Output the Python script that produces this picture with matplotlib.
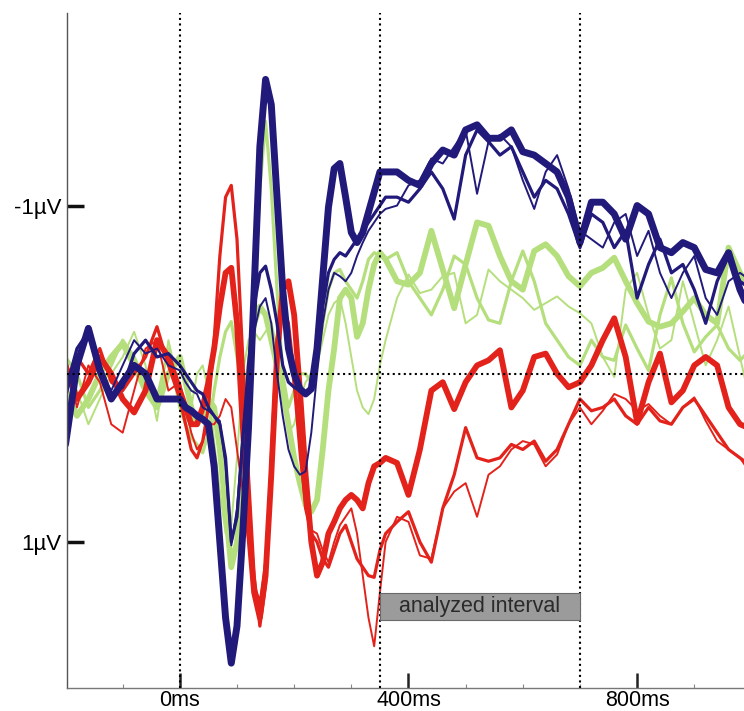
# -*- coding: utf-8 -*-
# Potenciales evocados (ERP): tres condiciones (rojo, verde, azul),
# cada una con tres trazos de distinto grosor.

import matplotlib.pyplot as plt
from matplotlib.patches import Rectangle

plt.rcParams['font.family'] = ['Liberation Sans', 'DejaVu Sans']

# Eje temporal (ms): 20 ms en línea de base y al final, 10 ms entre 0 y 360
ms = list(range(-200, 0, 20)) + list(range(0, 370, 10)) + list(range(380, 1001, 20))

# Amplitudes en µV (negativo hacia arriba)
azul_grueso = ([0.42, -0.05, -0.27, -0.02, 0.15, 0.05, -0.05, 0.0, 0.15, 0.15]
               + [0.15, 0.2, 0.22, 0.25, 0.27, 0.3, 0.55, 1.0, 1.45, 1.72,
                  1.5, 0.95, 0.33, -0.5, -1.35, -1.75, -1.6, -1.05, -0.5, -0.15,
                  0.0, 0.09, 0.12, 0.09, -0.15, -0.57, -0.99, -1.22, -1.25, -1.05,
                  -0.84, -0.78, -0.84, -0.96, -1.08, -1.2, -1.2]
               + [-1.2, -1.15, -1.12, -1.25, -1.33, -1.3, -1.45, -1.48, -1.4, -1.4,
                  -1.45, -1.32, -1.3, -1.25, -1.2, -1.05, -0.78, -1.02, -1.02, -0.95,
                  -0.8, -1.0, -0.95, -0.75, -0.72, -0.78, -0.75, -0.62, -0.6, -0.72,
                  -0.5, -0.35])
azul_medio = ([0.1, -0.15, -0.25, -0.05, 0.12, 0.08, -0.12, -0.2, -0.1, -0.12]
              + [-0.05, 0.0, 0.05, 0.1, 0.12, 0.2, 0.25, 0.3, 0.5, 1.0,
                 0.85, 0.4, -0.05, -0.4, -0.6, -0.64, -0.5, -0.3, -0.05, 0.05,
                 0.08, 0.1, 0.12, 0.1, -0.1, -0.4, -0.6, -0.68, -0.72, -0.7,
                 -0.75, -0.8, -0.85, -0.9, -0.95, -1.0, -1.05]
              + [-1.05, -1.02, -1.1, -1.2, -1.1, -0.92, -1.3, -1.45, -1.38, -1.3,
                 -1.35, -1.2, -1.05, -1.15, -1.1, -0.95, -0.75, -0.95, -0.9, -0.75,
                 -0.85, -0.45, -0.65, -0.8, -0.6, -0.65, -0.5, -0.3, -0.55, -0.7,
                 -0.55, -0.5])
azul_fino = ([0.15, -0.1, -0.22, 0.0, 0.1, -0.05, -0.2, -0.12, -0.15, -0.05]
             + [-0.02, 0.05, 0.1, 0.12, 0.2, 0.22, 0.25, 0.28, 0.55, 1.02,
                0.8, 0.35, 0.0, -0.25, -0.4, -0.45, -0.3, 0.0, 0.25, 0.45,
                0.55, 0.6, 0.58, 0.35, 0.0, -0.3, -0.5, -0.6, -0.58, -0.55,
                -0.6, -0.7, -0.78, -0.85, -0.9, -0.95, -0.98]
             + [-1.0, -1.12, -1.15, -1.28, -1.25, -1.35, -1.45, -1.07, -1.38, -1.42,
                -1.35, -1.15, -0.98, -1.2, -1.3, -1.1, -0.85, -0.8, -0.75, -0.9,
                -0.95, -0.7, -0.85, -0.6, -0.45, -0.6, -0.7, -0.45, -0.35, -0.55,
                -0.6, -0.55])

verde_grueso = ([0.1, 0.25, 0.15, 0.0, -0.1, -0.18, -0.05, 0.1, 0.2, 0.0]
                + [-0.1, 0.05, 0.2, 0.3, 0.25, 0.15, 0.2, 0.45, 0.8, 1.15,
                   1.0, 0.5, 0.0, -0.3, -0.4, -0.35, -0.2, -0.05, 0.1, 0.3,
                   0.5, 0.65, 0.78, 0.82, 0.75, 0.45, 0.1, -0.15, -0.45, -0.5,
                   -0.45, -0.22, -0.3, -0.5, -0.65, -0.72, -0.68]
                + [-0.55, -0.53, -0.6, -0.85, -0.62, -0.39, -0.65, -0.9, -0.88, -0.7,
                   -0.55, -0.5, -0.73, -0.77, -0.7, -0.58, -0.52, -0.6, -0.63, -0.69,
                   -0.55, -0.42, -0.31, -0.28, -0.3, -0.37, -0.45, -0.35, -0.3, -0.75,
                   -0.6, -0.5])
verde_medio = ([-0.1, 0.0, 0.2, 0.1, -0.05, -0.2, -0.1, 0.05, 0.15, -0.15]
               + [0.2, 0.3, 0.38, 0.42, 0.47, 0.35, 0.1, -0.1, -0.25, -0.31,
                  -0.1, 0.1, 0.2, -0.4, -1.1, -1.5, -1.1, -0.5, 0.0, 0.2,
                  0.1, 0.0, 0.0, 0.05, -0.05, -0.3, -0.5, -0.6, -0.62, -0.55,
                  -0.5, -0.45, -0.55, -0.68, -0.72, -0.7, -0.68]
               + [-0.72, -0.55, -0.45, -0.35, -0.5, -0.7, -0.65, -0.45, -0.32, -0.3,
                  -0.55, -0.73, -0.55, -0.3, -0.2, -0.1, -0.05, -0.2, -0.1, -0.08,
                  -0.29, -0.15, -0.02, -0.35, -0.57, -0.3, -0.13, -0.22, -0.29, -0.15,
                  -0.08, -0.15])
verde_fino = ([-0.05, 0.1, 0.3, 0.15, 0.0, -0.1, -0.25, -0.05, 0.28, -0.2]
              + [0.1, 0.28, 0.2, 0.0, -0.05, 0.1, 0.4, 0.7, 0.95, 0.9,
                 0.5, 0.0, -0.2, -0.25, -0.2, -0.25, -0.31, -0.15, 0.1, 0.35,
                 0.3, 0.15, 0.05, 0.0, -0.05, -0.2, -0.35, -0.42, -0.45, -0.3,
                 -0.1, 0.1, 0.2, 0.24, 0.15, -0.05, -0.2]
              + [-0.45, -0.59, -0.48, -0.5, -0.58, -0.6, -0.3, -0.35, -0.62, -0.55,
                 -0.5, -0.45, -0.38, -0.42, -0.46, -0.4, -0.36, -0.3, -0.1, 0.02,
                 -0.5, -0.6, -0.35, -0.15, -0.2, -0.55, -0.3, -0.05, -0.2, -0.4,
                 -0.1, 0.2])

rojo_grueso = ([-0.05, 0.15, 0.05, -0.1, 0.0, 0.15, 0.23, 0.1, -0.2, -0.1]
               + [0.1, 0.2, 0.3, 0.3, 0.2, 0.05, -0.15, -0.4, -0.6, -0.63,
                  -0.3, 0.3, 0.9, 1.3, 1.45, 1.2, 0.6, -0.1, -0.5, -0.55,
                  -0.35, 0.1, 0.6, 1.0, 1.2, 1.12, 0.95, 0.88, 0.8, 0.75,
                  0.72, 0.75, 0.8, 0.65, 0.55, 0.53, 0.5]
               + [0.53, 0.72, 0.45, 0.1, 0.05, 0.21, 0.05, -0.05, -0.08, -0.14,
                  0.2, 0.1, -0.1, -0.12, 0.0, 0.08, 0.05, -0.05, -0.2, -0.33,
                  -0.1, 0.29, 0.05, -0.12, 0.17, 0.1, -0.05, -0.1, -0.05, 0.2,
                  0.3, 0.33])
rojo_medio = ([0.1, -0.1, 0.0, -0.15, 0.05, 0.1, 0.0, -0.1, -0.28, -0.05]
              + [0.15, 0.3, 0.45, 0.5, 0.4, 0.2, -0.2, -0.7, -1.05, -1.12,
                 -0.8, -0.1, 0.6, 1.2, 1.5, 1.25, 0.5, -0.2, -0.4, -0.3,
                 0.0, 0.4, 0.8, 0.95, 1.0, 1.1, 1.15, 1.05, 0.95, 0.9,
                 1.0, 1.1, 1.15, 1.2, 1.21, 1.05, 0.95]
              + [0.88, 0.82, 1.0, 1.12, 0.8, 0.6, 0.32, 0.5, 0.52, 0.5,
                 0.42, 0.45, 0.4, 0.52, 0.45, 0.3, 0.15, 0.22, 0.2, 0.15,
                 0.25, 0.3, 0.2, 0.28, 0.3, 0.2, 0.15, 0.25, 0.35, 0.45,
                 0.5, 0.55])
rojo_fino = ([-0.1, 0.2, -0.05, 0.05, 0.3, 0.35, 0.1, -0.15, -0.2, 0.1]
             + [0.05, 0.2, 0.35, 0.45, 0.4, 0.3, 0.3, 0.25, 0.15, 0.2,
                0.45, 0.7, 1.0, 1.25, 1.35, 1.1, 0.5, -0.25, -0.39, -0.2,
                0.1, 0.5, 0.8, 0.93, 0.95, 1.05, 1.12, 1.0, 0.9, 0.85,
                0.8, 0.95, 1.2, 1.45, 1.62, 1.3, 1.0]
             + [0.85, 0.88, 1.08, 1.1, 0.8, 0.7, 0.65, 0.85, 0.6, 0.55,
                0.45, 0.4, 0.42, 0.55, 0.48, 0.3, 0.2, 0.3, 0.22, 0.12,
                0.15, 0.22, 0.18, 0.25, 0.3, 0.2, 0.14, 0.28, 0.4, 0.45,
                0.5, 0.6])

rojo = '#e3231b'
verde = '#b5df7c'
azul = '#211a7a'

fig = plt.figure(figsize=(7.44, 7.11), dpi=100)
ax = fig.add_axes([0.0896, 0.0328, 0.9104, 0.9485])

# orden de dibujo: verde, rojo y azul encima
trazos = [(verde_fino, verde, 1.4), (verde_medio, verde, 2.3), (verde_grueso, verde, 4.2),
          (rojo_fino, rojo, 1.4), (rojo_medio, rojo, 2.3), (rojo_grueso, rojo, 4.2),
          (azul_fino, azul, 1.4), (azul_medio, azul, 2.3), (azul_grueso, azul, 5.0)]
for serie, color, grosor in trazos:
    ax.plot(ms, serie, color=color, lw=grosor, solid_joinstyle='round',
            solid_capstyle='round')

# líneas de referencia punteadas
for t in [0, 350, 700]:
    ax.axvline(t, color='black', ls=':', lw=1.5, zorder=5)
ax.axhline(0, color='black', ls=':', lw=1.5, zorder=5)

# intervalo analizado
ax.add_patch(Rectangle((350, 1.303), 350, 0.161, facecolor='#9b9b9b',
                       edgecolor='#6a6a6a', lw=0.8, zorder=6))
ax.text(525, 1.385, 'analyzed interval', ha='center', va='center',
        fontsize=15.5, color='#2a2a2a', zorder=7)

ax.set_xlim(-198, 987)
ax.set_ylim(1.866, -2.143)

ax.set_xticks([0, 400, 800])
ax.set_xticklabels(['0ms', '400ms', '800ms'])
ax.set_xticks([-100, 100, 200, 300, 500, 600, 700, 900], minor=True)
ax.set_yticks([-1, 1])
ax.set_yticklabels(['-1µV', '1µV'])

ax.tick_params(axis='x', which='major', direction='in', length=11, width=1.8,
               color='#222222', pad=2, labelsize=15.5)
ax.tick_params(axis='x', which='minor', direction='in', length=3, width=0.8,
               color='#888888')
ax.tick_params(axis='y', which='major', direction='in', length=12, width=2.5,
               color='#111111', pad=4, labelsize=16)

for lado in ['top', 'right']:
    ax.spines[lado].set_visible(False)
ax.spines['left'].set_color('#555555')
ax.spines['bottom'].set_color('#777777')
ax.spines['left'].set_linewidth(1.0)
ax.spines['bottom'].set_linewidth(1.0)

fig.savefig('out.png', dpi=100)
